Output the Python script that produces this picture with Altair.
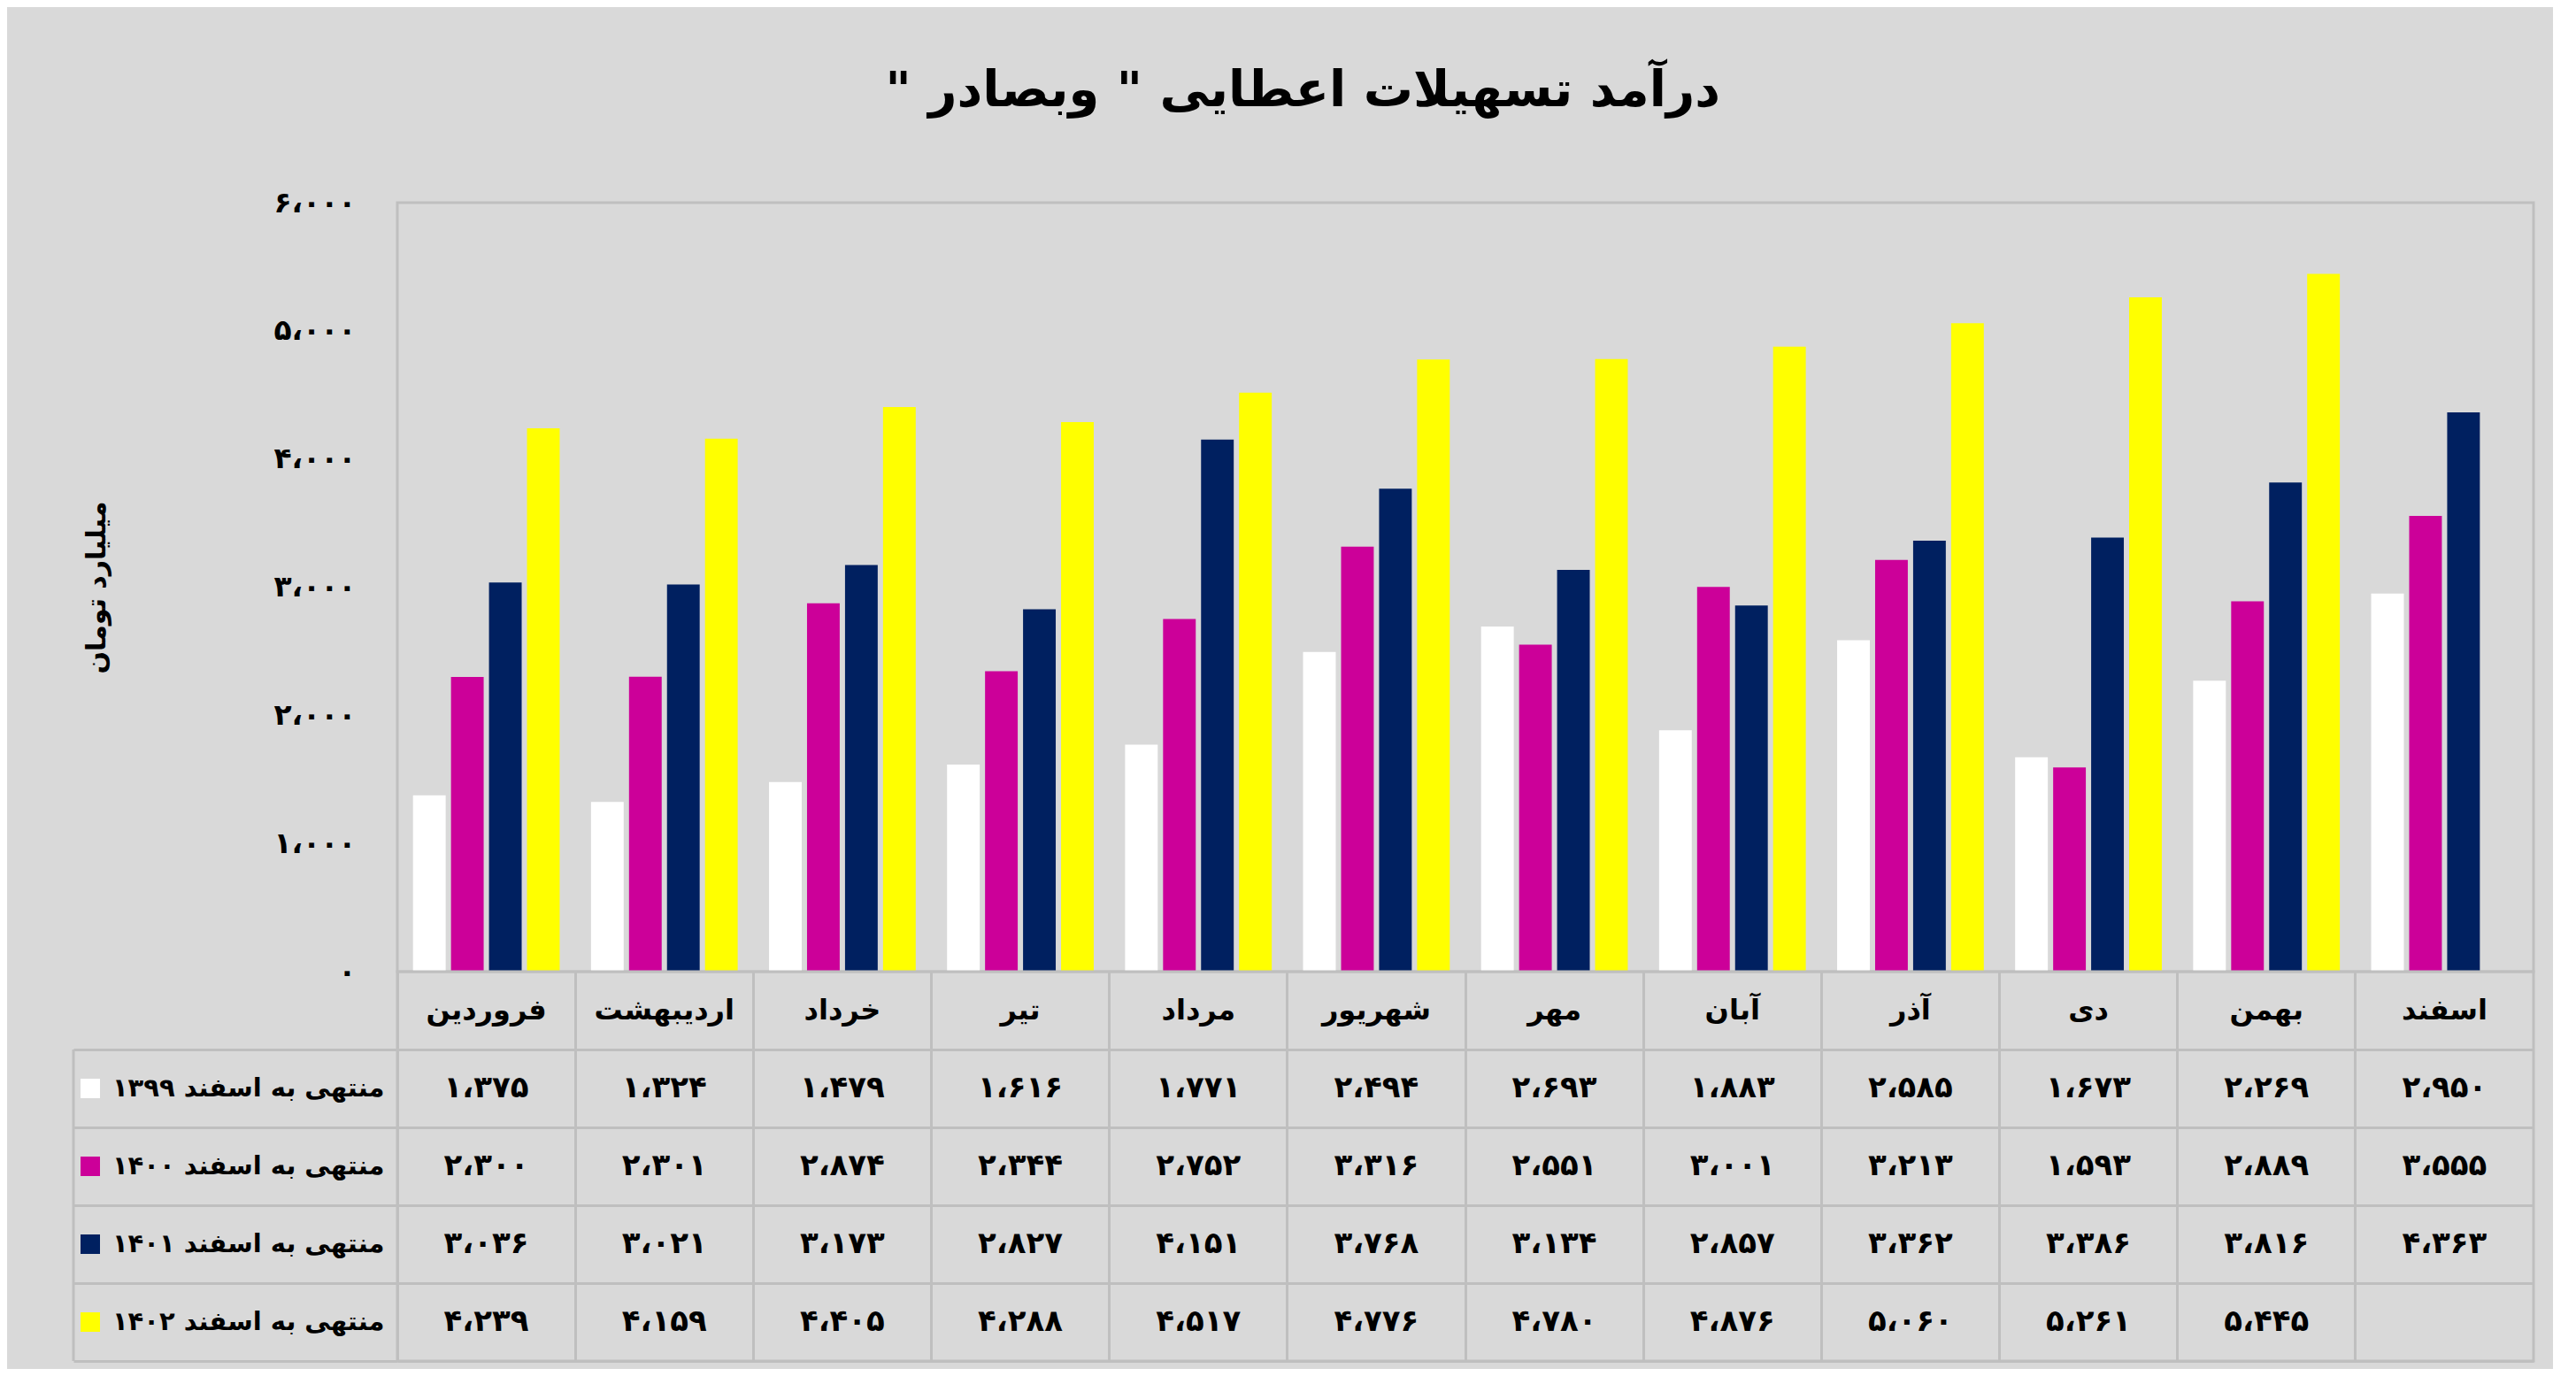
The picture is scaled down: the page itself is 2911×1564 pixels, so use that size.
import altair as alt
import pandas as pd

# ---------------- data ----------------
months = ["فروردین", "اردیبهشت", "خرداد", "تیر", "مرداد", "شهریور",
          "مهر", "آبان", "آذر", "دی", "بهمن", "اسفند"]
series = ["منتهی به اسفند ۱۳۹۹", "منتهی به اسفند ۱۴۰۰",
          "منتهی به اسفند ۱۴۰۱", "منتهی به اسفند ۱۴۰۲"]
v1399 = [1375, 1324, 1479, 1616, 1771, 2494, 2693, 1883, 2585, 1673, 2269, 2950]
v1400 = [2300, 2301, 2874, 2344, 2752, 3316, 2551, 3001, 3213, 1593, 2889, 3555]
v1401 = [3036, 3021, 3173, 2827, 4151, 3768, 3134, 2857, 3362, 3386, 3816, 4363]
v1402 = [4239, 4159, 4405, 4288, 4517, 4776, 4780, 4876, 5060, 5261, 5445, None]
colors = ["#ffffff", "#cc0099", "#002060", "#ffff00"]
y_ticks = [0, 1000, 2000, 3000, 4000, 5000, 6000]
title_text = 'درآمد تسهیلات اعطایی " وبصادر "\u200f'
y_title = "میلیارد تومان"

FA = str.maketrans("0123456789", "۰۱۲۳۴۵۶۷۸۹")


def fa(n):
    return f"{n:,}".replace(",", "،").translate(FA)


rows = []
for s, vals in zip(series, [v1399, v1400, v1401, v1402]):
    for m, v in zip(months, vals):
        if v is not None:
            rows.append({"month": m, "series": s, "value": v, "label": fa(v)})
df = pd.DataFrame(rows)
hdr = pd.DataFrame({"month": months, "row": ["h"] * len(months)})
row_domain = ["h"] + series

y_label_map = "{" + ",".join(f"'{t}':'{fa(t)}'" for t in y_ticks) + "}"

GRID = "#bfbfbf"
FONT = "DejaVu Sans"
PW = 2414
BH = 869
RH = 88
TH = RH * 5

# ---------------- bar chart ----------------
bars = alt.Chart(df).mark_bar().encode(
    x=alt.X("month:N", sort=months,
            scale=alt.Scale(paddingInner=0.176, paddingOuter=0.088), axis=None),
    xOffset=alt.XOffset("series:N", sort=series, scale=alt.Scale(paddingInner=0.14)),
    y=alt.Y("value:Q", scale=alt.Scale(domain=[0, 6000], nice=False),
            axis=alt.Axis(values=y_ticks, labelExpr=f"{y_label_map}[datum.value]",
                          grid=False, ticks=False, domain=False,
                          labelPadding=47, labelFontSize=33, labelFontWeight="bold",
                          labelColor="black", labelFont=FONT,
                          title=y_title, titleFontSize=30, titleFontWeight="bold",
                          titleColor="black", titleFont=FONT,
                          titleX=-340, titleY=BH / 2, titleAngle=270,
                          titleAlign="center", titleBaseline="middle")),
    color=alt.Color("series:N", scale=alt.Scale(domain=series, range=colors), legend=None),
).properties(width=PW, height=BH)

# ---------------- table ----------------
yenc_axis = alt.Axis(title=None, bandPosition=1, tickExtra=False, tickSize=366,
                     tickColor=GRID, tickWidth=3, labelPadding=-351,
                     labelFontSize=29, labelFontWeight="bold", labelColor="black",
                     labelFont=FONT, labelAlign="right", labelLimit=400,
                     labelExpr="datum.value == 'h' ? '' : datum.value",
                     domain=False, grid=True, gridColor=GRID, gridWidth=3)
xenc_axis = alt.Axis(title=None, labels=False, ticks=False, domain=False,
                     grid=True, gridColor=GRID, gridWidth=3, bandPosition=0)

yscale = alt.Scale(type="band", domain=row_domain, padding=0)
xs = alt.X("month:N", sort=months,
           scale=alt.Scale(type="band", domain=months, padding=0), axis=xenc_axis)

header = alt.Chart(hdr).mark_text(fontSize=32, fontWeight="bold", font=FONT, color="black").encode(
    x=xs,
    y=alt.Y("row:N", scale=yscale, axis=yenc_axis),
    text="month:N",
)
cells = alt.Chart(df).mark_text(fontSize=34, fontWeight="bold", font=FONT, color="black").encode(
    x=xs,
    y=alt.Y("series:N", scale=yscale),
    text="label:N",
)
swatch = alt.Chart(df).mark_square(opacity=0).encode(
    x=xs,
    y=alt.Y("series:N", scale=yscale),
    color=alt.Color("series:N", scale=alt.Scale(domain=series, range=colors),
                    legend=alt.Legend(orient="none", legendX=-358, legendY=RH + 33,
                                      title=None, symbolType="square", symbolSize=484,
                                      symbolOpacity=1, symbolStrokeWidth=0,
                                      labelExpr="''", labelFontSize=1, rowPadding=66,
                                      padding=0, offset=0)),
)
border = alt.Chart(pd.DataFrame({"k": [0]})).mark_rule(color=GRID, strokeWidth=3).encode(
    x=alt.value(-366), y=alt.value(RH), y2=alt.value(TH)
)

table = alt.layer(header, cells, swatch, border).properties(width=PW, height=TH)

chart = alt.vconcat(bars, table, spacing=0, bounds="flush").resolve_scale(
    color="independent"
).properties(
    title=alt.TitleParams(title_text, fontSize=56, fontWeight="bold", font=FONT,
                          color="black", anchor="middle", offset=80),
    padding={"left": 72, "top": 66, "right": 20, "bottom": 6},
).configure(background="#d9d9d9").configure_view(stroke=GRID, strokeWidth=3)

chart.save("out.html", embed_options={"renderer": "svg", "actions": False})
